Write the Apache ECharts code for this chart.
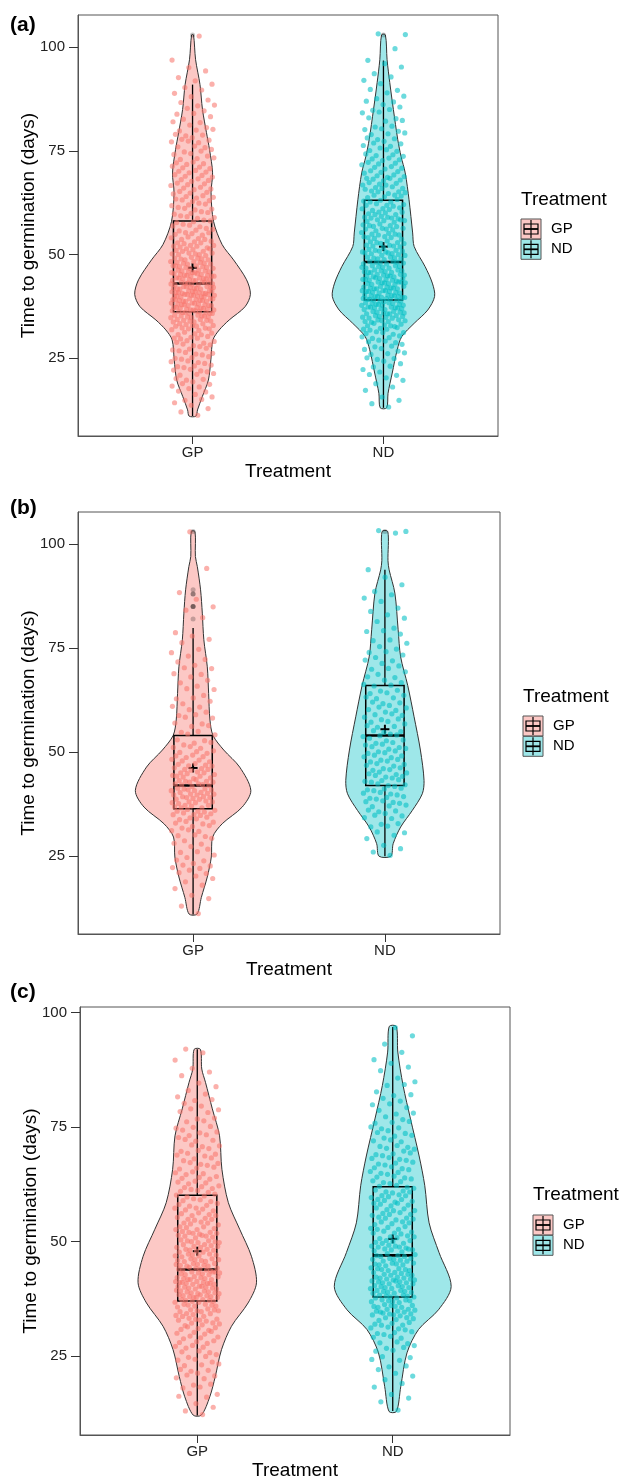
<!DOCTYPE html>
<html>
<head>
<meta charset="utf-8">
<script src="https://cdn.jsdelivr.net/npm/echarts@6/dist/echarts.min.js"></script>
<style>
  html, body { margin: 0; padding: 0; background: #fff; }
  #chart { width: 625px; height: 1482px; }
</style>
</head>
<body>
<div id="chart"></div>
<script>
const treatments = ['GP', 'ND']
const yTicks = [25, 50, 75, 100]
const panelLabels = ['(a)', '(b)', '(c)']

// violin outlines: [days, half width in x units]
const violinA_GP = [[11, 0.018], [12.5, 0.026], [15.7, 0.051], [19.7, 0.083], [24.6, 0.096], [29.4, 0.107], [31.8, 0.14], [34.2, 0.192], [37.4, 0.275], [40.4, 0.303], [43.9, 0.283], [48.7, 0.215], [52.4, 0.155], [58, 0.11], [64.9, 0.097], [69.7, 0.105], [75.3, 0.089], [79.4, 0.073], [85, 0.052], [91, 0.039], [97, 0.016], [103, 0.005]]
const violinA_ND = [[13, 0.017], [16.5, 0.024], [21.4, 0.046], [27, 0.072], [30.2, 0.096], [33.4, 0.161], [36.6, 0.232], [39.9, 0.268], [43.1, 0.256], [47.1, 0.218], [51.9, 0.161], [55.2, 0.153], [63.2, 0.134], [69.7, 0.114], [73.7, 0.092], [77.7, 0.075], [85, 0.052], [91.5, 0.033], [97, 0.019], [103, 0.01]]
const violinB_GP = [[11.1, 0.021], [15.1, 0.043], [20, 0.074], [24.8, 0.095], [29.6, 0.102], [32.8, 0.152], [36.8, 0.256], [40.8, 0.301], [46.4, 0.243], [50.5, 0.16], [54, 0.104], [57.7, 0.088], [64.1, 0.081], [70.5, 0.074], [77, 0.056], [83.4, 0.048], [89, 0.039], [94.6, 0.022], [97, 0.012], [103, 0.01]]
const violinB_ND = [[25, 0.031], [28, 0.043], [32, 0.082], [36, 0.143], [40, 0.195], [43.2, 0.204], [50.5, 0.185], [58.5, 0.152], [66, 0.119], [72.9, 0.082], [79.4, 0.069], [88.2, 0.052], [93.8, 0.022], [96, 0.016], [103, 0.015]]
const violinC_GP = [[12.1, 0.021], [16.1, 0.064], [20.5, 0.092], [26.4, 0.124], [31.5, 0.175], [36.6, 0.26], [41, 0.303], [46.8, 0.277], [52.7, 0.217], [58.5, 0.159], [65.8, 0.126], [73.1, 0.114], [79, 0.077], [84.8, 0.042], [87.7, 0.023], [92, 0.016]]
const violinC_ND = [[12.9, 0.019], [18.3, 0.041], [25.7, 0.073], [30.8, 0.132], [35.1, 0.234], [40.2, 0.299], [47.6, 0.237], [54.1, 0.186], [62.2, 0.164], [68.7, 0.135], [76.8, 0.091], [84.1, 0.053], [91.4, 0.026], [97, 0.018]]

// box stats: [lower whisker, Q1, median, Q3, upper whisker, mean]
const boxA_GP = [11, 36.2, 43, 58.1, 91, 46.8]
const boxA_ND = [13, 39, 48.2, 63.1, 96.8, 51.9]
const boxB_GP = [11, 36.4, 42, 54, 79.8, 46.2]
const boxB_ND = [25, 42, 54, 66, 93.8, 55.5]
const boxC_GP = [12, 37, 43.9, 60.1, 92, 47.9]
const boxC_ND = [13, 37.9, 47, 62, 96.9, 50.6]

const outliersA_GP = [103]
const outliersA_ND = [103]
const outliersB_GP = [82, 85, 85, 85, 88, 88, 89, 103]
const outliersB_ND = [103]
const outliersC_GP = []
const outliersC_ND = []

// seeds per day (first day given), estimated from the jittered points
const firstA_GP = 11
const countsA_GP = [1, 1, 1, 2, 2, 2, 2, 3, 3, 3, 3, 4, 4, 4, 4, 4, 4, 4, 4, 5, 5, 6, 7, 8, 9, 10, 11, 11, 12, 12, 12, 12, 11, 11, 10, 9, 9, 8, 7, 7, 6, 6, 5, 5, 5, 4, 4, 4, 4, 4, 4, 4, 4, 4, 4, 4, 4, 4, 4, 4, 4, 4, 3, 3, 3, 3, 3, 3, 3, 3, 2, 2, 2, 2, 2, 2, 2, 1, 1, 2, 1, 1, 1, 1, 1, 0, 1, 0, 0, 0, 0, 0, 1]
const firstA_ND = 13
const countsA_ND = [1, 1, 1, 1, 1, 1, 1, 2, 2, 2, 2, 2, 3, 3, 3, 3, 4, 4, 5, 5, 6, 7, 8, 9, 10, 10, 10, 11, 10, 10, 10, 9, 9, 9, 8, 8, 7, 7, 7, 6, 6, 6, 6, 6, 6, 6, 6, 6, 5, 5, 5, 5, 5, 5, 5, 5, 4, 4, 4, 4, 4, 4, 3, 3, 3, 3, 3, 3, 2, 2, 2, 2, 2, 2, 2, 2, 1, 2, 1, 1, 1, 1, 1, 1, 1, 0, 0, 1, 0, 0, 2]
const firstB_GP = 11
const countsB_GP = [1, 0, 1, 0, 1, 1, 1, 1, 1, 2, 2, 3, 3, 2, 2, 2, 2, 2, 2, 3, 3, 3, 4, 4, 5, 5, 6, 6, 7, 7, 7, 6, 6, 6, 5, 5, 5, 4, 4, 4, 3, 3, 2, 2, 2, 2, 2, 2, 2, 2, 2, 2, 2, 1, 2, 1, 2, 1, 2, 2, 1, 2, 1, 1, 1, 1, 1, 1, 1, 0, 0, 1, 0, 1, 1, 0, 1, 1, 0, 0, 0, 0, 0, 1, 0, 0, 0, 0, 0, 0, 0, 0, 1]
const firstB_ND = 25
const countsB_ND = [1, 1, 1, 1, 1, 1, 2, 2, 2, 2, 3, 3, 3, 4, 4, 4, 4, 4, 4, 4, 4, 4, 4, 4, 4, 4, 4, 4, 3, 4, 3, 3, 3, 3, 3, 3, 3, 3, 3, 3, 2, 3, 2, 2, 2, 2, 2, 2, 2, 2, 2, 1, 2, 1, 2, 1, 1, 1, 1, 1, 1, 1, 1, 1, 1, 1, 0, 1, 0, 1, 0, 0, 0, 0, 0, 0, 0, 0, 3]
const firstC_GP = 12
const countsC_GP = [1, 1, 1, 1, 2, 2, 2, 2, 2, 3, 3, 3, 3, 3, 3, 4, 4, 4, 4, 5, 5, 6, 6, 7, 7, 8, 9, 9, 9, 10, 9, 9, 8, 8, 8, 7, 7, 7, 7, 6, 6, 6, 5, 5, 5, 5, 4, 4, 4, 4, 4, 4, 4, 4, 3, 4, 3, 4, 3, 3, 3, 3, 3, 3, 2, 2, 2, 2, 2, 2, 2, 1, 1, 1, 1, 1, 1, 0, 1, 1, 1]
const firstC_ND = 13
const countsC_ND = [1, 0, 1, 1, 1, 1, 1, 1, 2, 1, 2, 2, 2, 2, 3, 3, 3, 4, 4, 5, 5, 6, 7, 7, 7, 8, 8, 8, 8, 8, 7, 7, 7, 7, 6, 6, 6, 6, 5, 5, 5, 5, 5, 5, 5, 5, 5, 5, 5, 4, 4, 4, 4, 4, 4, 4, 4, 3, 3, 3, 3, 3, 3, 3, 2, 2, 2, 2, 2, 2, 1, 2, 1, 1, 1, 1, 1, 1, 1, 0, 1, 0, 1, 0, 1]

const FONT = '"Liberation Sans", Arial, Helvetica, sans-serif'
const colors = {
  GP: { fill: 'rgba(248,118,109,0.4)', point: 'rgba(248,118,109,0.72)' },
  ND: { fill: 'rgba(0,191,196,0.38)', point: 'rgba(0,191,196,0.72)' },
}

const panels = [
  {
    grid: { left: 78, top: 15, width: 420, height: 421 }, yMin: 6.2, yMax: 107.8,
    legend: { x: 521, titleY: 200, keyTop: 219 }, labelY: 27,
    groups: [
      { violin: violinA_GP, box: boxA_GP, outliers: outliersA_GP, first: firstA_GP, counts: countsA_GP },
      { violin: violinA_ND, box: boxA_ND, outliers: outliersA_ND, first: firstA_ND, counts: countsA_ND },
    ],
  },
  {
    grid: { left: 78, top: 512, width: 422, height: 422 }, yMin: 6.3, yMax: 107.7,
    legend: { x: 523, titleY: 697, keyTop: 716 }, labelY: 510,
    groups: [
      { violin: violinB_GP, box: boxB_GP, outliers: outliersB_GP, first: firstB_GP, counts: countsB_GP },
      { violin: violinB_ND, box: boxB_ND, outliers: outliersB_ND, first: firstB_ND, counts: countsB_ND },
    ],
  },
  {
    grid: { left: 80, top: 1007, width: 430, height: 428 }, yMin: 7.75, yMax: 101.25,
    legend: { x: 533, titleY: 1195, keyTop: 1215 }, labelY: 994,
    groups: [
      { violin: violinC_GP, box: boxC_GP, outliers: outliersC_GP, first: firstC_GP, counts: countsC_GP },
      { violin: violinC_ND, box: boxC_ND, outliers: outliersC_ND, first: firstC_ND, counts: countsC_ND },
    ],
  },
]

// geom_jitter stand-in: spread each day's seeds with a fixed low-discrepancy offset
const jitter = (first, counts, center) => {
  const pts = []
  let i = 0
  counts.forEach((n, k) => {
    for (let j = 0; j < n; j++) {
      i++
      const fx = (i * 0.6180339887) % 1
      const fy = (i * 0.7548776662) % 1
      pts.push([center + (fx * 2 - 1) * 0.115, first + k + (fy - 0.5) * 0.8])
    }
  })
  return pts
}

const violinSeries = (idx, center, profile, fill) => ({
  type: 'custom',
  xAxisIndex: idx,
  yAxisIndex: idx,
  silent: true,
  data: [[center, profile[0][0]]],
  renderItem: (params, api) => {
    const right = profile.map(([v, w]) => api.coord([center + w, v]))
    const left = profile.slice().reverse().map(([v, w]) => api.coord([center - w, v]))
    return {
      type: 'polygon',
      shape: { points: right.concat(left), smooth: 0.3 },
      style: { fill: fill, stroke: '#333', lineWidth: 1 },
    }
  },
})

const boxSeries = (idx, center, stats) => ({
  type: 'custom',
  xAxisIndex: idx,
  yAxisIndex: idx,
  silent: true,
  data: [[center, stats[2]]],
  renderItem: (params, api) => {
    const [lo, q1, med, q3, hi, mean] = stats
    const p = (x, y) => api.coord([x, y])
    const line = (a, b, w) => ({
      type: 'line',
      shape: { x1: a[0], y1: a[1], x2: b[0], y2: b[1] },
      style: { stroke: '#000', lineWidth: w },
    })
    const tl = p(center - 0.1, q3)
    const br = p(center + 0.1, q1)
    const m = p(center, mean)
    return {
      type: 'group',
      children: [
        line(p(center, q3), p(center, hi), 1.3),
        line(p(center, q1), p(center, lo), 1.3),
        {
          type: 'rect',
          shape: { x: tl[0], y: tl[1], width: br[0] - tl[0], height: br[1] - tl[1] },
          style: { fill: 'none', stroke: '#000', lineWidth: 1.5 },
        },
        line(p(center - 0.1, med), p(center + 0.1, med), 2.6),
        line([m[0] - 4.5, m[1]], [m[0] + 4.5, m[1]], 2),
        line([m[0], m[1] - 4.5], [m[0], m[1] + 4.5], 2),
      ],
    }
  },
})

const legendGraphics = ({ x, titleY, keyTop }) => {
  const els = [{
    type: 'text', left: x, top: titleY - 10,
    style: { text: 'Treatment', font: '19px ' + FONT, fill: '#000' },
  }]
  treatments.forEach((t, i) => {
    const y = keyTop + i * 20.3
    els.push({
      type: 'group', x: x, y: y,
      children: [
        { type: 'rect', shape: { x: 0, y: 0, width: 20, height: 20 }, style: { fill: colors[t].fill, stroke: '#555', lineWidth: 1 } },
        { type: 'rect', shape: { x: 3, y: 5, width: 14, height: 10 }, style: { fill: 'none', stroke: '#000', lineWidth: 1.2 } },
        { type: 'line', shape: { x1: 10, y1: 1, x2: 10, y2: 19 }, style: { stroke: '#000', lineWidth: 1.2 } },
        { type: 'line', shape: { x1: 3, y1: 10, x2: 17, y2: 10 }, style: { stroke: '#000', lineWidth: 1.8 } },
      ],
    })
    els.push({
      type: 'text', left: x + 30, top: y + 2,
      style: { text: t, font: '15px ' + FONT, fill: '#000' },
    })
  })
  return els
}

const grids = []
const xAxes = []
const yAxes = []
const series = []
const graphics = []

panels.forEach((panel, idx) => {
  grids.push(Object.assign({ show: true, borderColor: '#555', borderWidth: 1, containLabel: false }, panel.grid))
  xAxes.push({
    type: 'value', gridIndex: idx, min: 0.4, max: 2.6,
    name: 'Treatment', nameLocation: 'middle', nameGap: 26, nameMoveOverlap: false,
    nameTextStyle: { fontSize: 19, fontFamily: FONT, color: '#000' },
    axisLine: { show: true, onZero: false, lineStyle: { color: '#555' } },
    axisTick: { show: true, length: 8, customValues: [1, 2], lineStyle: { color: '#333' } },
    axisLabel: {
      customValues: [1, 2], margin: 9, fontSize: 15, fontFamily: FONT, color: '#222',
      formatter: (v) => treatments[Math.round(v) - 1] || '',
    },
    splitLine: { show: false },
  })
  yAxes.push({
    type: 'value', gridIndex: idx, min: panel.yMin, max: panel.yMax,
    name: 'Time to germination (days)', nameLocation: 'middle', nameGap: 40, nameMoveOverlap: false,
    nameTextStyle: { fontSize: 19, fontFamily: FONT, color: '#000' },
    axisLine: { show: true, lineStyle: { color: '#555' } },
    axisTick: { show: true, length: 9, customValues: yTicks, lineStyle: { color: '#333' } },
    axisLabel: { customValues: yTicks, margin: 13, fontSize: 15, fontFamily: FONT, color: '#222' },
    splitLine: { show: false },
  })

  panel.groups.forEach((g, gi) => {
    series.push(violinSeries(idx, gi + 1, g.violin, colors[treatments[gi]].fill))
  })
  panel.groups.forEach((g, gi) => {
    series.push({
      type: 'scatter', xAxisIndex: idx, yAxisIndex: idx, silent: true,
      symbolSize: 5.2,
      itemStyle: { color: colors[treatments[gi]].point },
      data: jitter(g.first, g.counts, gi + 1),
    })
  })
  panel.groups.forEach((g, gi) => {
    series.push({
      type: 'scatter', xAxisIndex: idx, yAxisIndex: idx, silent: true,
      symbolSize: 5,
      itemStyle: { color: 'rgba(0,0,0,0.28)' },
      data: g.outliers.map((v) => [gi + 1, v]),
    })
    series.push(boxSeries(idx, gi + 1, g.box))
  })

  graphics.push({
    type: 'text', left: 10, top: panel.labelY - 12,
    style: { text: panelLabels[idx], font: 'bold 21px ' + FONT, fill: '#000' },
  })
  graphics.push(...legendGraphics(panel.legend))
})

const chart = echarts.init(document.getElementById('chart'), null, { renderer: 'canvas' })
chart.setOption({
  backgroundColor: '#fff',
  animation: false,
  grid: grids,
  xAxis: xAxes,
  yAxis: yAxes,
  series: series,
  graphic: graphics,
})
</script>
</body>
</html>
